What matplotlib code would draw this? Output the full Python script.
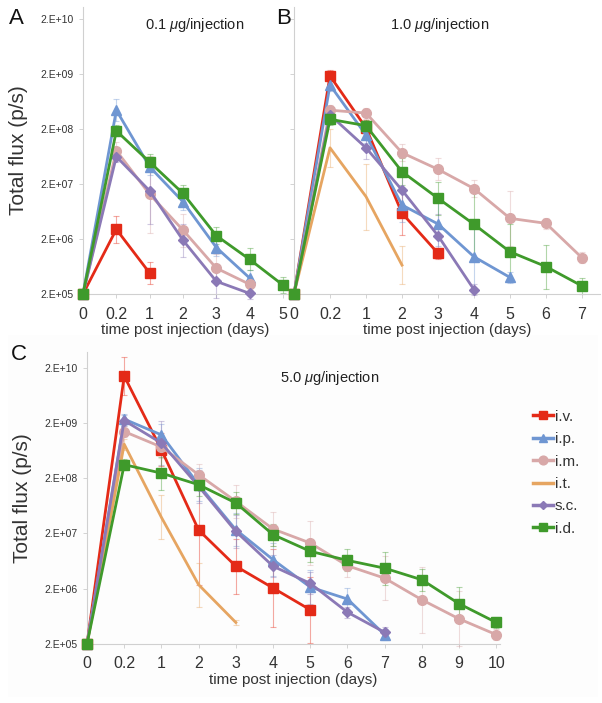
import numpy as np
import matplotlib
matplotlib.use("Agg")
import matplotlib.pyplot as plt
from matplotlib.lines import Line2D

plt.rcParams['font.family'] = ['Liberation Sans', 'DejaVu Sans']
plt.rcParams['mathtext.fontset'] = 'custom'
plt.rcParams['mathtext.it'] = 'Liberation Sans:italic'
plt.rcParams['mathtext.rm'] = 'Liberation Sans'

# ---------------- data ----------------
routes = ["i.v.", "i.p.", "i.m.", "i.t.", "s.c.", "i.d."]
colors = ["#e42a17", "#6f96d2", "#d8a8a8", "#e6a561", "#8b79b6", "#3f9a2b"]
markers = ["s", "^", "o", "", "D", "s"]
msizes = [7, 7, 7, 0, 5, 7]

labels_A = ["0", "0.2", "1", "2", "3", "4", "5"]
labels_B = ["0", "0.2", "1", "2", "3", "4", "5", "6", "7"]
labels_C = ["0", "0.2", "1", "2", "3", "4", "5", "6", "7", "8", "9", "10"]

# Panel A: 0.1 ug/injection
A_iv = [2e5, 3.0e6, 4.8e5]
A_ip = [2e5, 4.4e8, 4.1e7, 9.5e6, 1.4e6, 3.9e5]
A_im = [2e5, 8.1e7, 1.3e7, 2.9e6, 5.9e5, 3.0e5]
A_it = []
A_sc = [2e5, 6.3e7, 1.5e7, 1.9e6, 3.4e5, 2.05e5]
A_id = [2e5, 1.85e8, 5.0e7, 1.35e7, 2.3e6, 8.5e5, 2.9e5]

# Panel B: 1.0 ug/injection
B_iv = [2e5, 1.85e9, 2.1e8, 5.9e6, 1.1e6]
B_ip = [2e5, 1.26e9, 1.55e8, 8.3e6, 3.75e6, 9.5e5, 4.0e5]
B_im = [2e5, 4.4e8, 3.9e8, 7.4e7, 3.7e7, 1.65e7, 4.75e6, 3.85e6, 9.1e5]
B_it = [2e5, 9.1e7, 1.18e7, 6.7e5]
B_sc = [2e5, 3.6e8, 9.1e7, 1.55e7, 2.3e6, 2.4e5]
B_id = [2e5, 3.0e8, 2.3e8, 3.35e7, 1.1e7, 3.7e6, 1.17e6, 6.3e5, 2.8e5]

# Panel C: 5.0 ug/injection
C_iv = [2e5, 1.4e10, 6.5e8, 2.3e7, 5.1e6, 2.06e6, 8.3e5]
C_ip = [2e5, 2.33e9, 1.21e9, 1.52e8, 2.33e7, 6.7e6, 2.14e6, 1.3e6, 2.95e5]
C_im = [2e5, 1.39e9, 7.3e8, 2.3e8, 7.6e7, 2.4e7, 1.34e7, 5.2e6, 3.1e6, 1.26e6, 5.7e5, 2.95e5]
C_it = [2e5, 8.2e8, 3.9e7, 2.36e6, 4.9e5]
C_sc = [2e5, 2.2e9, 8.6e8, 1.42e8, 2.17e7, 5.1e6, 2.5e6, 7.5e5, 3.25e5]
C_id = [2e5, 3.5e8, 2.46e8, 1.52e8, 7.1e7, 1.9e7, 9.5e6, 6.5e6, 4.7e6, 2.9e6, 1.07e6, 4.9e5]

# error half-widths in decades (log10)
A_err = [[0, 0.25, 0.2],
         [0, 0.2, 0.15, 0.15, 0.15, 0.15],
         [0, 0.15, 0.7, 0.3, 0.25, 0.1],
         [],
         [0, 0.1, 0.6, 0.3, 0.3, 0.1],
         [0, 0.1, 0.15, 0.15, 0.15, 0.2, 0.15]]
B_err = [[0, 0.1, 0.15, 0.4, 0.1],
         [0, 0.1, 0.15, 0.3, 0.4, 0.6, 0.1],
         [0, 0.1, 0.1, 0.15, 0.2, 0.15, 0.5, 0.1, 0.1],
         [0, 0.35, 0.6, 0.35],
         [0, 0.1, 0.2, 0.3, 0.4, 0.1],
         [0, 0.1, 0.1, 0.25, 0.3, 0.6, 0.5, 0.4, 0.15]]
C_err = [[0, 0.35, 0.3, 1.0, 0.5, 0.7, 0.6],
         [0, 0.1, 0.2, 0.3, 0.3, 0.3, 0.3, 0.2, 0.1],
         [0, 0.1, 0.2, 0.2, 0.3, 0.3, 0.4, 0.2, 0.4, 0.6, 0.5, 0.1],
         [0, 0.1, 0.4, 0.4, 0.05],
         [0, 0.1, 0.4, 0.3, 0.3, 0.2, 0.2, 0.1, 0.1],
         [0, 0.1, 0.3, 0.2, 0.2, 0.2, 0.2, 0.2, 0.3, 0.2, 0.3, 0.1]]

ytick_vals = [2e5, 2e6, 2e7, 2e8, 2e9, 2e10]
ytick_labels = ["2.E+05", "2.E+06", "2.E+07", "2.E+08", "2.E+09", "2.E+10"]

W, H = 602, 703
fig = plt.figure(figsize=(W / 100, H / 100), dpi=100)
fig.patch.set_facecolor("white")

# faint background box behind panel C
fig.patches.append(plt.Rectangle((8 / W, 1 - 697 / H), 590 / W, 362 / H,
                                 transform=fig.transFigure, facecolor="#fdfdfd",
                                 edgecolor="none", zorder=-10))


def px_axes(l, t, r, b):
    return fig.add_axes([l / W, 1 - b / H, (r - l) / W, (b - t) / H])


def draw_panel(ax, series, errs, labels, xmax, decades, show_ylabels):
    for i, vals in enumerate(series):
        if len(vals) == 0:
            continue
        x = np.arange(len(vals))
        y = np.array(vals)
        e = np.array(errs[i])
        lo = y - y / 10 ** e
        hi = y * 10 ** e - y
        ax.errorbar(x[1:], y[1:], yerr=[lo[1:], hi[1:]], fmt="none",
                    ecolor=colors[i], alpha=0.4, elinewidth=0.8, capsize=2,
                    capthick=0.8, zorder=2, clip_on=False)
        ax.plot(x, y, color=colors[i], lw=2.0, marker=markers[i] if markers[i] else None,
                ms=msizes[i], mec=colors[i], mfc=colors[i], zorder=3, clip_on=False)
    ax.set_yscale("log")
    ax.set_ylim(2e5, 2e5 * 10 ** decades)
    ax.set_xlim(0, xmax)
    ax.set_xticks(range(len(labels)))
    ax.set_xticklabels(labels, fontsize=11.5, color="#333333")
    ax.set_yticks(ytick_vals)
    ax.yaxis.set_minor_locator(matplotlib.ticker.NullLocator())
    if show_ylabels:
        ax.set_yticklabels(ytick_labels, fontsize=7.5, color="#333333")
    else:
        ax.set_yticklabels([])
    ax.tick_params(axis="both", length=3, width=0.6, color="#cccccc", pad=4)
    ax.tick_params(axis="x", pad=6)
    for s in ["top", "right"]:
        ax.spines[s].set_visible(False)
    for s in ["left", "bottom"]:
        ax.spines[s].set_color("#d0d0d0")
        ax.spines[s].set_linewidth(0.8)
    ax.set_facecolor("none")


A_series = [A_iv, A_ip, A_im, A_it, A_sc, A_id]
B_series = [B_iv, B_ip, B_im, B_it, B_sc, B_id]
C_series = [C_iv, C_ip, C_im, C_it, C_sc, C_id]

axA = px_axes(83, 7, 288, 294)
draw_panel(axA, A_series, A_err, labels_A, 6.15, 287 / 55, True)
axB = px_axes(294, 7, 600, 294)
draw_panel(axB, B_series, B_err, labels_B, 8.5, 287 / 55, False)
axC = px_axes(87, 352, 500, 644)
draw_panel(axC, C_series, C_err, labels_C, 11.1, 292 / 55.3, True)

for ax in (axA, axB, axC):
    ax.set_xlabel("time post injection (days)", fontsize=11, color="#333333", labelpad=1)
axA.set_ylabel("Total flux (p/s)", fontsize=15, color="#333333", labelpad=9)
axC.set_ylabel("Total flux (p/s)", fontsize=15, color="#333333", labelpad=9)

fig.text(195 / W, 1 - 25 / H, r"0.1 $\mu$g/injection", fontsize=10.5, ha="center", va="center", color="#222222")
fig.text(440 / W, 1 - 25 / H, r"1.0 $\mu$g/injection", fontsize=10.5, ha="center", va="center", color="#222222")
fig.text(330 / W, 1 - 378 / H, r"5.0 $\mu$g/injection", fontsize=10.5, ha="center", va="center", color="#222222")

fig.text(16 / W, 1 - 19 / H, "A", fontsize=16, ha="center", va="center", color="#111111")
fig.text(284 / W, 1 - 19 / H, "B", fontsize=16, ha="center", va="center", color="#111111")
fig.text(19 / W, 1 - 354 / H, "C", fontsize=16, ha="center", va="center", color="#111111")

handles = [Line2D([0], [0], color=colors[i], lw=2.5, marker=markers[i] if markers[i] else None,
                  ms=msizes[i] * 0.9, mfc=colors[i], mec=colors[i]) for i in range(6)]
fig.legend(handles, routes, loc="upper left", bbox_to_anchor=(519 / W, 1 - 396 / H),
           frameon=False, fontsize=11, handlelength=1.3, handletextpad=0.15,
           labelspacing=0.55, labelcolor="#333333")

fig.savefig("out.png", dpi=100, facecolor="white")
